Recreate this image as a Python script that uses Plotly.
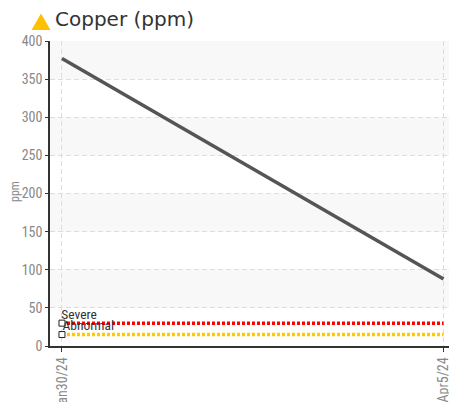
import plotly.graph_objects as go

dates = ["Jan30/24", "Apr5/24"]
copper = [377, 88]
severe = [30, 30]
abnormal = [15, 15]
yticks = [0, 50, 100, 150, 200, 250, 300, 350, 400]
bands = [(50, 100), (150, 200), (250, 300), (350, 400)]
title = "Copper (ppm)"
ytitle = "ppm"

W, H = 449, 402
L, R, T, B = 49.5, 0, 40.5, 55.5
pw, ph = W - L - R, H - T - B
px = lambda x: (x - L) / pw
py = lambda y: 1 - (y - T) / ph

fig = go.Figure()
x = [0, 1]
fig.add_trace(go.Scatter(x=x, y=abnormal, mode="lines", line=dict(color="#FFC800", width=3.5, dash="3px,2px"), hoverinfo="skip"))
fig.add_trace(go.Scatter(x=x, y=severe, mode="lines", line=dict(color="#FF0000", width=3.5, dash="3px,2px"), hoverinfo="skip"))
fig.add_trace(go.Scatter(x=x[:1], y=abnormal[:1], mode="markers", marker=dict(symbol="square", size=6, color="white", line=dict(color="#222", width=1))))
fig.add_trace(go.Scatter(x=x[:1], y=severe[:1], mode="markers", marker=dict(symbol="square", size=6, color="white", line=dict(color="#222", width=1))))
fig.add_trace(go.Scatter(x=x, y=copper, mode="lines", line=dict(color="#555555", width=3.5)))

for a, b in bands:
    fig.add_hrect(y0=a, y1=b, fillcolor="#f8f8f8", line_width=0, layer="below")

narrow = "Roboto, Liberation Sans, sans-serif"
fig.add_annotation(x=0, y=severe[0], text="Severe", showarrow=False, xanchor="left", yanchor="bottom", xshift=-5, yshift=-1,
                   font=dict(family=narrow, size=13.5, color="#333"))
fig.add_annotation(x=0, y=abnormal[0], text="Abnormal", showarrow=False, xanchor="left", yanchor="bottom", xshift=-5, yshift=0,
                   font=dict(family=narrow, size=13.5, color="#333"))
fig.add_annotation(xref="paper", yref="paper", x=px(53), y=py(18.5), text=title, showarrow=False, xanchor="left", yanchor="middle",
                   font=dict(family="DejaVu Sans", size=20, color="#333"))
fig.add_annotation(xref="paper", yref="paper", x=px(14), y=py(192), text=ytitle, showarrow=False, textangle=-90, xanchor="center", yanchor="middle",
                   font=dict(family=narrow, size=12, color="#888"))
fig.add_shape(type="path", xref="paper", yref="paper", line_width=0, fillcolor="#FFC000",
              path=f"M {px(31)} {py(29.5)} L {px(50)} {py(29.5)} L {px(40.5)} {py(13)} Z")

fig.update_layout(
    width=W, height=H, margin=dict(l=L, r=R, t=T, b=B), showlegend=False,
    plot_bgcolor="white", paper_bgcolor="white",
    xaxis=dict(range=[-12 / 382, 1 + 5.5 / 382], tickvals=x, ticktext=dates, tickangle=-90,
               automargin=False, ticklabeloverflow="allow",
               showgrid=True, gridcolor="#dddddd", griddash="5px,3px", gridwidth=1, zeroline=False,
               showline=True, linecolor="#333", linewidth=1.5, ticks="outside", ticklen=4, tickcolor="#333",
               tickfont=dict(family=narrow, size=14, color="#888")),
    yaxis=dict(range=[0, 400], tickvals=yticks, automargin=False,
               showgrid=True, gridcolor="#dddddd", griddash="5px,3px", gridwidth=1, zeroline=False,
               showline=True, linecolor="#333", linewidth=1.5, ticks="outside", ticklen=3, tickcolor="#333",
               tickfont=dict(family=narrow, size=14, color="#888")),
)
fig.write_html("out.html", config=dict(displayModeBar=False),
               post_script="document.body.style.margin='0';document.body.style.overflow='hidden';"
               "var s=document.createElement('style');s.textContent='text[style*=Roboto]{font-stretch:condensed}';document.head.appendChild(s);")
